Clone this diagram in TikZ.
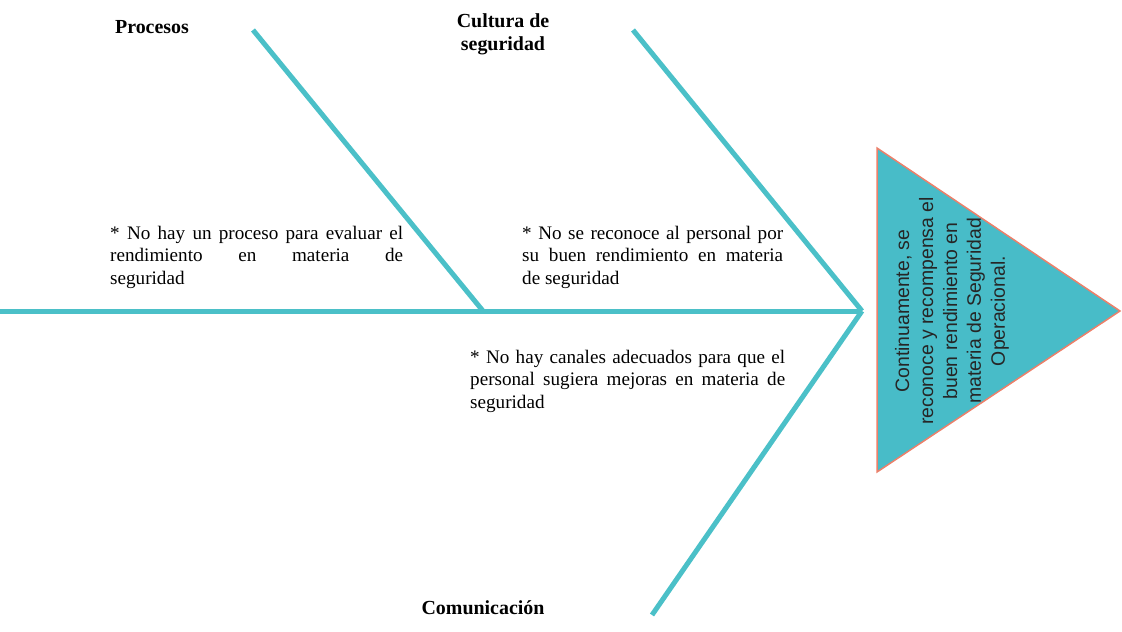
\documentclass[tikz,border=0pt]{standalone}
\usepackage{fontspec}
\setmainfont{Liberation Serif}
\newfontfamily\arialfont{Liberation Sans}
\hyphenpenalty=10000
\exhyphenpenalty=10000
\begin{document}
\definecolor{bone}{RGB}{75,192,200}
\definecolor{headfill}{RGB}{72,188,200}
\definecolor{headedge}{RGB}{236,128,106}
\begin{tikzpicture}[x=1bp,y=-1bp,
  bonestyle/.style={draw=bone,line width=5bp},
  cat/.style={font=\fontsize{20}{23}\selectfont\bfseries,align=center},
  cause/.style={font=\fontsize{19.2}{22.5}\selectfont,align=justify,anchor=north west,inner sep=0pt},
]
\useasboundingbox (0,0) rectangle (1122,632);
% head of the fishbone
\coordinate (h1) at (877,148);
\coordinate (h2) at (877,472);
\coordinate (h3) at (1120,311);
\filldraw[fill=headfill,draw=headedge,line width=1.5bp] (h1) -- (h3) -- (h2) -- cycle;
\node[rotate=90,align=center,font=\arialfont\fontsize{19.5}{24}\selectfont,text=black!85] (effect) at (952,311)
  {Continuamente, se\\reconoce y recompensa el\\buen rendimiento en\\materia de Seguridad\\Operacional.};
% spine and bones
\coordinate (tail) at (0,311);
\coordinate (joint) at (862,311);
\coordinate (j1) at (483,311);
\coordinate (b1) at (253,30);
\coordinate (b2) at (633,30);
\coordinate (b3) at (652,615);
\draw[bonestyle] (tail) -- (joint);
\draw[bonestyle] (b1) -- (j1);
\draw[bonestyle] (b2) -- (joint);
\draw[bonestyle] (b3) -- (joint);
% category labels
\node[cat] (procesos) at (152,27) {Procesos};
\node[cat] (cultura) at (503,34) {Cultura de\\seguridad};
\node[cat] (comunic) at (483,608) {Comunicación};
% causes
\node[cause,text width=293bp] (c1) at (110,226)
  {* No hay un proceso para evaluar el\linebreak rendimiento en materia de\linebreak seguridad};
\node[cause,text width=261bp] (c2) at (522,226)
  {* No se reconoce al personal por su buen rendimiento en materia\linebreak de seguridad};
\node[cause,text width=315bp] (c3) at (470,350)
  {* No hay canales adecuados para que el personal sugiera mejoras en materia de seguridad};
\end{tikzpicture}
\end{document}
